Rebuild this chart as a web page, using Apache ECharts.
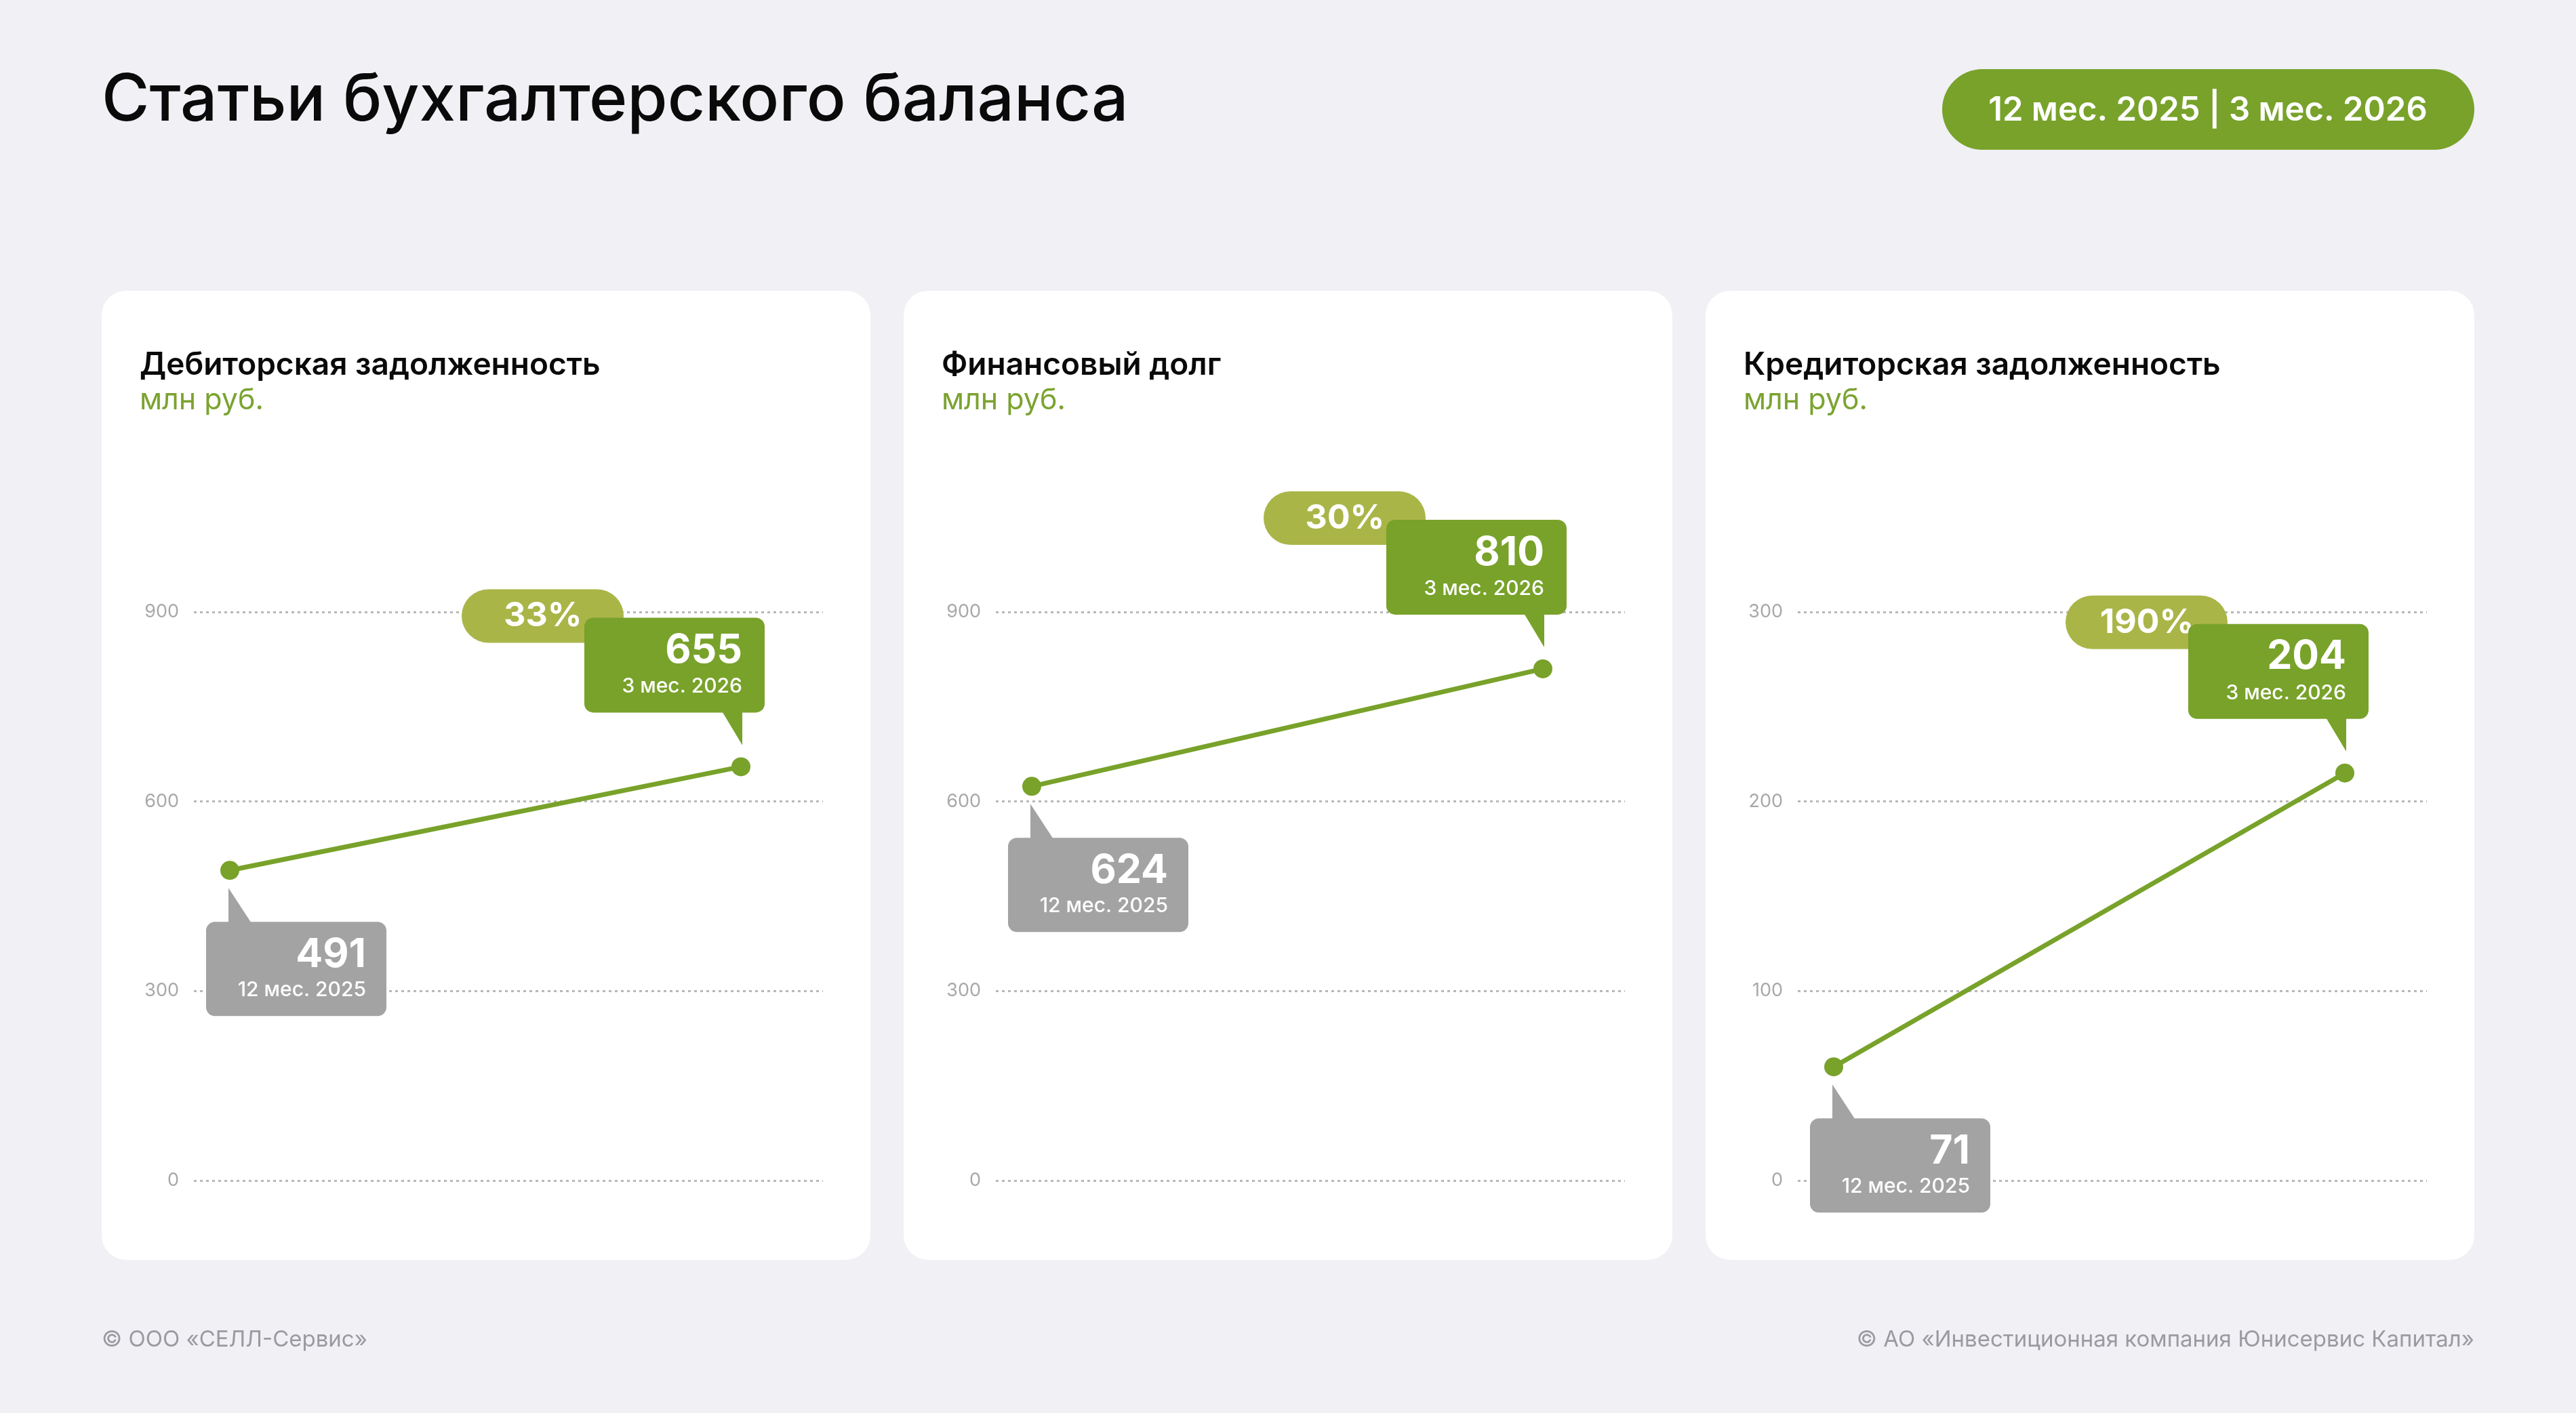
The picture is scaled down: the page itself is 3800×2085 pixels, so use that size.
<!DOCTYPE html>
<html>
<head>
<meta charset="utf-8">
<script src="https://cdn.jsdelivr.net/npm/echarts@6/dist/echarts.min.js"></script>
<style>
html,body{margin:0;padding:0;background:#F0F0F5;}
#chart{width:3800px;height:2085px;}
</style>
</head>
<body>
<div id="chart"></div>
<script>
// ---- data ----
const pageTitle = 'Статьи бухгалтерского баланса';
const periodBadge = '12 мес. 2025 | 3 мес. 2026';
const categories = ['12 мес. 2025', '3 мес. 2026'];
const panelTitles = ['Дебиторская задолженность', 'Финансовый долг', 'Кредиторская задолженность'];
const unitLabel = 'млн руб.';
const receivables = [491, 655];
const financialDebt = [624, 810];
const payables = [60, 215];
const receivablesLabels = ['491', '655'];
const financialDebtLabels = ['624', '810'];
const payablesLabels = ['71', '204'];
const growthLabels = ['33%', '30%', '190%'];
const axisMax = [900, 900, 300];
const axisInterval = [300, 300, 100];
const footerLeft = '© ООО «СЕЛЛ-Сервис»';
const footerRight = '© АО «Инвестиционная компания Юнисервис Капитал»';

const seriesValues = [receivables, financialDebt, payables];
const seriesLabels = [receivablesLabels, financialDebtLabels, payablesLabels];

// ---- style ----
const GREEN = '#78A22A';
const LIGHT = '#AAB548';
const GRAY = '#A3A3A3';
const FONT = 'Inter, "Noto Sans", sans-serif';
const cardLeft = [150, 1333, 2516];
const cardW = 1134, cardTop = 429, cardH = 1430;

const chart = echarts.init(document.getElementById('chart'), null, {renderer: 'canvas'});

const grids = [], xAxes = [], yAxes = [], series = [];
const graphics = [];

graphics.push({type: 'text', z: 10, style: {text: pageTitle, x: 150, y: 149, verticalAlign: 'middle', fill: '#0A0A0A', font: '500 96px ' + FONT}});
graphics.push({type: 'rect', z: 10, shape: {x: 2865, y: 102, width: 785, height: 119, r: 59.5}, style: {fill: GREEN}});
graphics.push({type: 'text', z: 11, style: {text: periodBadge, x: 3257, y: 163, align: 'center', verticalAlign: 'middle', fill: '#FFFFFF', font: '600 49px ' + FONT}});
graphics.push({type: 'text', z: 10, style: {text: footerLeft, x: 150, y: 1977, verticalAlign: 'middle', fill: '#9A9AA0', font: '400 33px ' + FONT}});
graphics.push({type: 'text', z: 10, style: {text: footerRight, x: 3650, y: 1977, align: 'right', verticalAlign: 'middle', fill: '#9A9AA0', font: '400 33px ' + FONT}});

function makeRender(pi) {
  return function (params, api) {
    const idx = params.dataIndex;
    const p = api.coord([api.value(0), api.value(1)]);
    const px = p[0], py = p[1];
    const label = seriesLabels[pi][idx];
    const sub = categories[idx];
    if (idx === 0) {
      return {type: 'group', children: [
        {type: 'polygon', shape: {points: [[px - 2, py + 26], [px - 2, py + 78], [px + 32, py + 78]]}, style: {fill: GRAY}},
        {type: 'rect', shape: {x: px - 35, y: py + 76, width: 266, height: 139, r: 13}, style: {fill: GRAY}},
        {type: 'text', style: {text: label, x: px + 201, y: py + 125, align: 'right', verticalAlign: 'middle', fill: '#FFFFFF', font: '700 59px ' + FONT}},
        {type: 'text', style: {text: sub, x: px + 201, y: py + 177, align: 'right', verticalAlign: 'middle', fill: '#FFFFFF', font: '500 30px ' + FONT}}
      ]};
    }
    return {type: 'group', children: [
      {type: 'rect', shape: {x: px - 412, y: py - 262, width: 239, height: 79, r: 39.5}, style: {fill: LIGHT}},
      {type: 'text', style: {text: growthLabels[pi], x: px - 292, y: py - 222, align: 'center', verticalAlign: 'middle', fill: '#FFFFFF', font: '700 50px ' + FONT}},
      {type: 'rect', shape: {x: px - 231, y: py - 220, width: 266, height: 140, r: 13}, style: {fill: GREEN}},
      {type: 'polygon', shape: {points: [[px + 2, py - 82], [px + 2, py - 32], [px - 28, py - 82]]}, style: {fill: GREEN}},
      {type: 'text', style: {text: label, x: px + 2, y: py - 171, align: 'right', verticalAlign: 'middle', fill: '#FFFFFF', font: '700 59px ' + FONT}},
      {type: 'text', style: {text: sub, x: px + 2, y: py - 118, align: 'right', verticalAlign: 'middle', fill: '#FFFFFF', font: '500 30px ' + FONT}}
    ]};
  };
}

for (let i = 0; i < 3; i++) {
  const cl = cardLeft[i];
  graphics.push({type: 'rect', z: -10, shape: {x: cl, y: cardTop, width: cardW, height: cardH, r: 36}, style: {fill: '#FFFFFF'}});
  graphics.push({type: 'text', z: 10, style: {text: panelTitles[i], x: cl + 56, y: 539, verticalAlign: 'middle', fill: '#0A0A0A', font: '600 46px ' + FONT}});
  graphics.push({type: 'text', z: 10, style: {text: unitLabel, x: cl + 56, y: 591, verticalAlign: 'middle', fill: '#7BA330', font: '400 43px ' + FONT}});

  grids.push({left: cl + 136, top: 903, width: 928, height: 839, containLabel: false});
  xAxes.push({type: 'value', gridIndex: i, min: -0.0703, max: 1.1605, show: false});
  yAxes.push({
    type: 'value', gridIndex: i, min: 0, max: axisMax[i], interval: axisInterval[i],
    axisLine: {show: false}, axisTick: {show: false},
    axisLabel: {color: '#A8A8A8', fontSize: 27, fontFamily: FONT, margin: 22},
    splitLine: {show: true, lineStyle: {color: '#B8B8B8', width: 3, type: [4, 5]}}
  });
  const pts = seriesValues[i].map((v, k) => [k, v]);
  series.push({
    type: 'custom', xAxisIndex: i, yAxisIndex: i, z: 3,
    data: pts, renderItem: makeRender(i), silent: true
  });
  series.push({
    type: 'line', xAxisIndex: i, yAxisIndex: i, z: 4,
    data: pts, symbol: 'circle', symbolSize: 28, showSymbol: true,
    lineStyle: {color: GREEN, width: 7}, itemStyle: {color: GREEN},
    animation: false, silent: true
  });
}

chart.setOption({
  backgroundColor: '#F0F0F5',
  animation: false,
  grid: grids,
  xAxis: xAxes,
  yAxis: yAxes,
  series: series,
  graphic: graphics
});
</script>
</body>
</html>
